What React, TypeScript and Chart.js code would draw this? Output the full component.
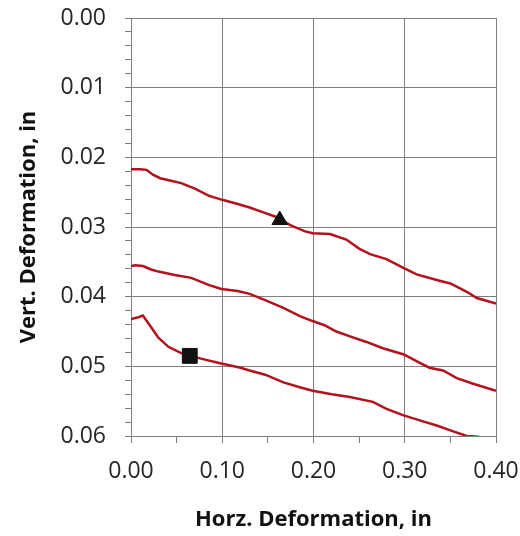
import React, { useEffect, useRef } from "react";
import { Chart, registerables } from "chart.js";

Chart.register(...registerables);

// Horizontal deformation (in) vs vertical deformation (in)
const topX = [0.0, 0.01, 0.017, 0.024, 0.032, 0.045, 0.055, 0.07, 0.085, 0.1, 0.117, 0.13, 0.145, 0.16, 0.174, 0.19, 0.199, 0.218, 0.236, 0.25, 0.262, 0.28, 0.299, 0.313, 0.335, 0.35, 0.368, 0.379, 0.4];
const topY = [0.0217, 0.0217, 0.0218, 0.0225, 0.023, 0.0234, 0.0237, 0.0245, 0.0255, 0.0261, 0.0267, 0.0272, 0.0279, 0.0286, 0.0297, 0.0306, 0.0309, 0.031, 0.0318, 0.0331, 0.0339, 0.0346, 0.0359, 0.0368, 0.0376, 0.0381, 0.0393, 0.0402, 0.041];

const midX = [0.0, 0.005, 0.013, 0.022, 0.03, 0.048, 0.066, 0.085, 0.099, 0.117, 0.13, 0.147, 0.167, 0.185, 0.199, 0.212, 0.225, 0.24, 0.258, 0.276, 0.299, 0.315, 0.327, 0.342, 0.357, 0.375, 0.4];
const midY = [0.0356, 0.0355, 0.0356, 0.0361, 0.0364, 0.0369, 0.0373, 0.0383, 0.0389, 0.0392, 0.0396, 0.0405, 0.0416, 0.0428, 0.0435, 0.0441, 0.045, 0.0457, 0.0465, 0.0474, 0.0483, 0.0494, 0.0502, 0.0506, 0.0517, 0.0525, 0.0535];

const botX = [0.0, 0.007, 0.013, 0.02, 0.03, 0.041, 0.055, 0.065, 0.08, 0.099, 0.12, 0.13, 0.147, 0.167, 0.185, 0.199, 0.22, 0.24, 0.265, 0.28, 0.298, 0.32, 0.335, 0.35, 0.368, 0.381];
const botY = [0.0432, 0.043, 0.0427, 0.044, 0.0459, 0.0472, 0.0481, 0.0485, 0.049, 0.0496, 0.0502, 0.0506, 0.0512, 0.0523, 0.053, 0.0535, 0.054, 0.0544, 0.0551, 0.0561, 0.057, 0.0579, 0.0585, 0.0592, 0.06, 0.0601];

const triangleX = [0.163];
const triangleY = [0.029];
const squareX = [0.0644];
const squareY = [0.0485];

const xTickMin = 0;
const xTickMax = 0.4;
const xTickStep = 0.05;
const yTickMin = 0;
const yTickMax = 0.06;
const yTickStep = 0.002;

const xTitle = "Horz. Deformation, in";
const yTitle = "Vert. Deformation, in";

const zip = (xs: number[], ys: number[]) => xs.map((x, i) => ({ x, y: ys[i] }));

const RED = "#b3121c";
const GRID = "#7f7f7f";

export default function App() {
  const ref = useRef<HTMLCanvasElement | null>(null);

  useEffect(() => {
    if (!ref.current) return;
    const lineDs = (xs: number[], ys: number[]) => ({
      data: zip(xs, ys),
      showLine: true,
      borderColor: RED,
      borderWidth: 2.5,
      pointRadius: 0,
      tension: 0,
      order: 2,
    });
    const isMajorX = (v: number) => Math.round(v * 100) % 10 === 0;
    const isMajorY = (v: number) => Math.round(v * 1000) % 10 === 0;

    const chart = new Chart(ref.current, {
      type: "scatter",
      data: {
        datasets: [
          lineDs(topX, topY),
          lineDs(midX, midY),
          lineDs(botX, botY),
          {
            data: zip(triangleX, triangleY),
            pointStyle: "triangle",
            pointRadius: 9,
            backgroundColor: "#111",
            borderColor: "#111",
            borderWidth: 1,
            order: 1,
          },
          {
            data: zip(squareX, squareY),
            pointStyle: "rect",
            pointRadius: 10.5,
            backgroundColor: "#111",
            borderColor: "#111",
            borderWidth: 1,
            order: 1,
          },
        ],
      },
      options: {
        responsive: false,
        animation: false,
        layout: { padding: { left: 0, right: 24, top: 18, bottom: 0 } },
        plugins: { legend: { display: false }, tooltip: { enabled: false } },
        scales: {
          x: {
            type: "linear",
            min: xTickMin,
            max: xTickMax,
            afterFit: (s: any) => {
              s.height = 100;
              s.paddingLeft = 0;
              s.paddingRight = 0;
            },
            ticks: {
              stepSize: xTickStep,
              autoSkip: false,
              maxRotation: 0,
              padding: 15,
              color: "#262626",
              font: { family: "'Open Sans'", size: 23 },
              callback: (v: any) => (isMajorX(Number(v)) ? Number(v).toFixed(2) : ""),
            },
            grid: {
              color: (c: any) => (c.tick && isMajorX(c.tick.value) ? GRID : "rgba(0,0,0,0)"),
              tickColor: GRID,
              tickLength: 7,
              lineWidth: 1,
            },
            border: { color: GRID, width: 1 },
            title: {
              display: true,
              text: xTitle,
              color: "#111",
              font: { family: "'Open Sans'", size: 22, weight: "bold" },
              padding: { top: 0, bottom: 3 },
            },
          },
          y: {
            type: "linear",
            reverse: true,
            min: yTickMin,
            max: yTickMax,
            afterFit: (s: any) => {
              s.width = 131;
              s.paddingTop = 0;
              s.paddingBottom = 0;
            },
            ticks: {
              stepSize: yTickStep,
              autoSkip: false,
              padding: 19,
              color: "#262626",
              font: { family: "'Open Sans'", size: 23 },
              callback: (v: any) => (isMajorY(Number(v)) ? Number(v).toFixed(2) : ""),
            },
            grid: {
              color: (c: any) => (c.tick && isMajorY(c.tick.value) ? GRID : "rgba(0,0,0,0)"),
              tickColor: GRID,
              tickLength: 6,
              lineWidth: 1,
            },
            border: { color: GRID, width: 1 },
            title: {
              display: true,
              text: yTitle,
              color: "#111",
              font: { family: "'Open Sans'", size: 22, weight: "bold" },
              padding: { top: 16, bottom: 0 },
            },
          },
        },
      },
    } as any);
    return () => chart.destroy();
  }, []);

  return (
    <div style={{ position: "absolute", left: 0, top: 0, width: 520, height: 536, background: "#fff" }}>
      <canvas ref={ref} width={520} height={536} />
    </div>
  );
}
